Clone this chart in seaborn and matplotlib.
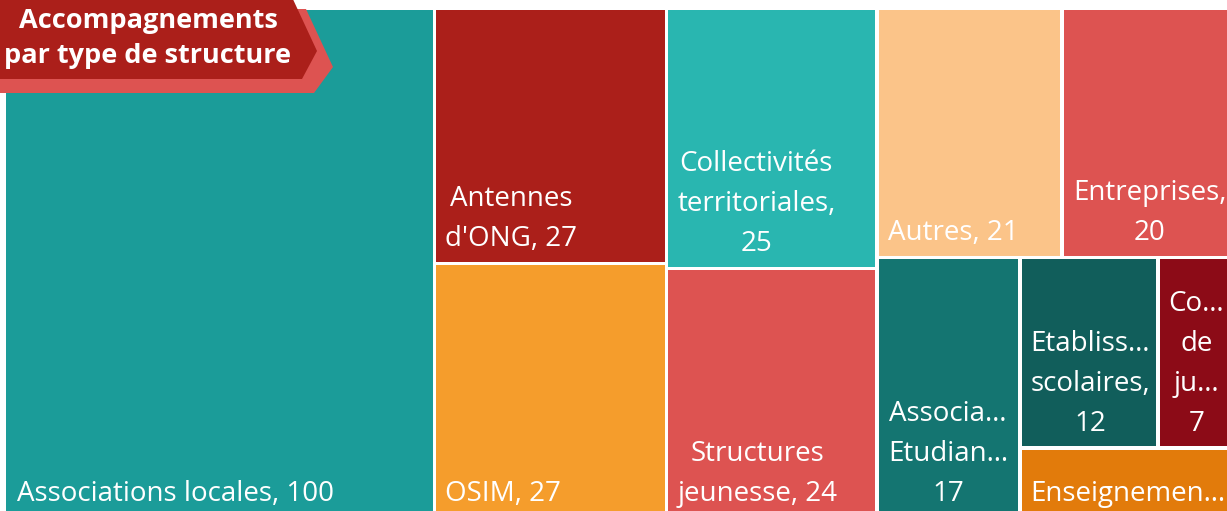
import matplotlib
matplotlib.use("Agg")
import matplotlib.pyplot as plt
from matplotlib.patches import Rectangle, Polygon
import seaborn as sns
import pandas as pd

# ---------------- data ----------------
categories = ["Associations locales", "Antennes d'ONG", "OSIM",
              "Collectivités territoriales", "Structures jeunesse", "Autres",
              "Entreprises", "Associations Etudiantes", "Etablissements scolaires",
              "Comités de jumelage", "Enseignement supérieur"]
values = [100, 27, 27, 25, 24, 21, 20, 17, 12, 7, 7]
labels = ["Associations locales, 100", "Antennes\nd'ONG, 27", "OSIM, 27",
          "Collectivités\nterritoriales,\n25", "Structures\njeunesse, 24",
          "Autres, 21", "Entreprises,\n20", "Associa…\nEtudian…\n17",
          "Etabliss…\nscolaires,\n12", "Co…\nde\nju…\n7", "Enseignemen…"]
colors = ["#1B9C99", "#AB1F1A", "#F59D2C", "#29B6B0", "#DD5351", "#FBC489",
          "#DD5351", "#147571", "#115E5B", "#8C0B17", "#E27B0B"]
title = "Accompagnements\npar type de structure"

df = pd.DataFrame({"category": categories, "value": values,
                   "label": labels, "color": colors})


# ---------------- squarified layout (area-weighted mean aspect) ----------------
def row_score(areas, side):
    s = sum(areas)
    t = s / side
    tot = 0.0
    for a in areas:
        l = a / t
        tot += a * max(t / l, l / t)
    return tot / s


def squarify(vals, x, y, w, h):
    total = float(sum(vals))
    areas = [v * w * h / total for v in vals]
    rects = []
    i, n = 0, len(areas)
    while i < n:
        side = min(w, h)
        row = [areas[i]]
        best = row_score(row, side)
        j = i + 1
        while j < n:
            cand = row + [areas[j]]
            sc = row_score(cand, side)
            if sc > best:
                break
            row, best = cand, sc
            j += 1
        t = sum(row) / side
        if w <= h:  # row across the top
            xx = x
            for a in row:
                l = a / t
                rects.append((xx, y, l, t))
                xx += l
            y += t
            h -= t
        else:  # column on the left
            yy = y
            for a in row:
                l = a / t
                rects.append((x, yy, t, l))
                yy += l
            x += t
            w -= t
        i = j
    return rects


# ---------------- figure ----------------
sns.set_theme(style="white")
plt.rcParams["font.family"] = ["Open Sans", "DejaVu Sans"]

W_PX, H_PX = 1227, 511
fig = plt.figure(figsize=(W_PX / 100, H_PX / 100), dpi=100)
ax = fig.add_axes([0, 0, 1, 1])
ax.set_xlim(0, W_PX)
ax.set_ylim(H_PX, 0)
ax.axis("off")

rects = squarify(df["value"].tolist(), 4.5, 8.2, 1233.8, 510.3)
inset = 1.7
for k, ((x, y, w, h), lab, col) in enumerate(zip(rects, df["label"], df["color"])):
    ax.add_patch(Rectangle((x + inset, y + inset), w - 2 * inset, h - 2 * inset,
                           facecolor=col, edgecolor="none", zorder=1))
    pad = 11 if k == 0 else 9
    ax.text(x + inset + pad, y + h - inset - 8.8, lab, ha="left", va="bottom",
            multialignment="center", color="white", fontsize=20,
            linespacing=1.57, zorder=2, clip_on=True)

# title banner (chevron with lighter shadow)
shadow = Polygon([(0, 9), (306, 9), (333, 67), (314, 93), (0, 93)],
                 closed=True, facecolor="#DD5351", edgecolor="none", zorder=3)
banner = Polygon([(0, -5), (291, -5), (317, 51), (302, 79), (0, 79)],
                 closed=True, facecolor="#AB1F1A", edgecolor="none", zorder=4)
ax.add_patch(shadow)
ax.add_patch(banner)
ax.text(148, 7.8, title, ha="center", va="top", multialignment="center",
        color="white", fontsize=19.5, fontweight="bold", linespacing=1.45,
        zorder=5)

fig.savefig("out.png", dpi=100)
